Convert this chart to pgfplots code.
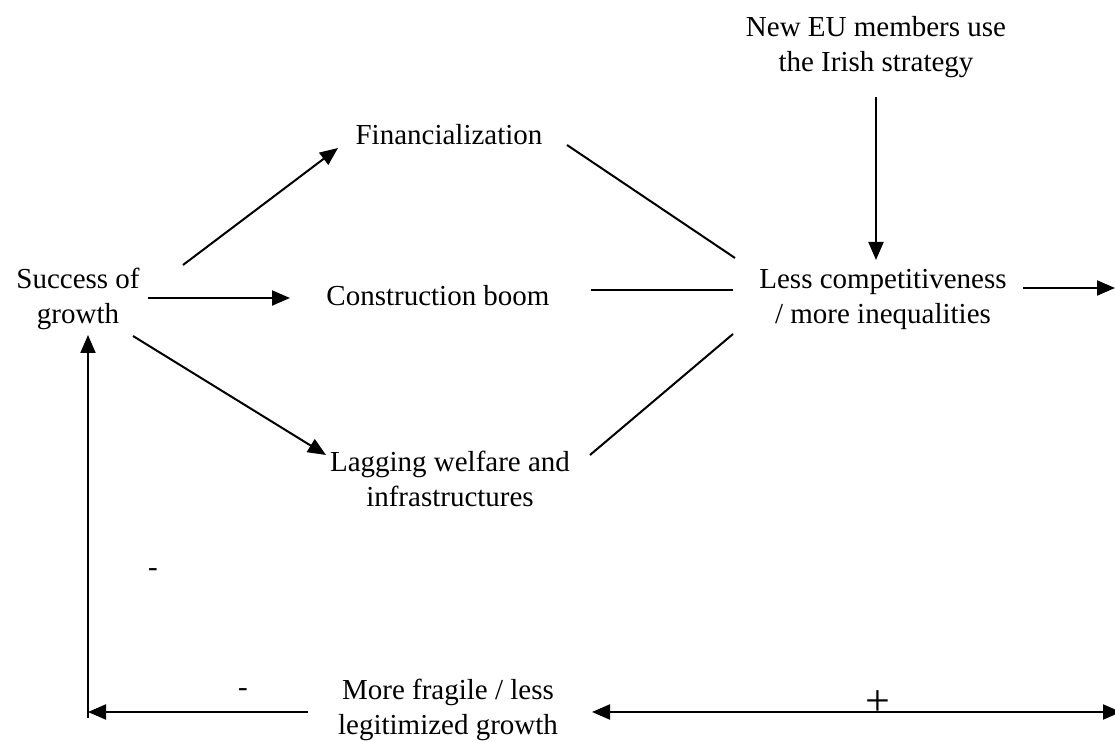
\documentclass[border=0pt]{standalone}
\usepackage{pgfplots}
\pgfplotsset{compat=1.18}
\usepackage{fontspec}
\setmainfont{Liberation Serif}
\usetikzlibrary{arrows.meta}
\newcommand{\fs}{\fontsize{14.5}{17.5}\selectfont}
\begin{document}
\begin{tikzpicture}
\begin{axis}[
    scale only axis,
    width=557.5pt, height=371pt,
    xmin=0, xmax=1115, ymin=0, ymax=742,
    y dir=reverse,
    hide axis, clip=false,
    cycle list={{black, solid, mark=none}},
    every axis plot/.append style={line width=1pt, black, solid, mark=none},
    arr/.style={-{Triangle[length=9pt,width=7.5pt]}},
]
% boxes of text
\node[font=\fs, align=center] at (axis cs:876,47) {New EU members use\\the Irish strategy};
\node[font=\fs] at (axis cs:449,135) {Financialization};
\node[font=\fs, align=center] at (axis cs:78,299) {Success of\\growth};
\node[font=\fs] at (axis cs:438,296) {Construction boom};
\node[font=\fs, align=center] at (axis cs:883,299) {Less competitiveness\\/ more inequalities};
\node[font=\fs, align=center] at (axis cs:450,479) {Lagging welfare and\\infrastructures};
\node[font=\fs, align=center] at (axis cs:448,710) {More fragile / less\\legitimized growth};
\node[font=\fs] at (axis cs:153,573) {-};
\node[font=\fs] at (axis cs:243,693) {-};
\node[font=\fontsize{22}{22}\selectfont] at (axis cs:878,703) {+};

% arrows and links
\addplot[arr] coordinates {(876,97) (876,260)};
\addplot[arr] coordinates {(183,265) (338,148)};
\addplot[black] coordinates {(567,145) (735,258)};
\addplot[arr] coordinates {(148,298) (290,298)};
\addplot[black] coordinates {(591,290) (733,290)};
\addplot[arr] coordinates {(1023,288) (1115,288)};
\addplot[arr] coordinates {(133,336) (326,455)};
\addplot[black] coordinates {(590,455) (733,334)};
\addplot[arr] coordinates {(88,718) (88,335)};
\addplot[arr] coordinates {(308,712) (88,712)};
\addplot[{Triangle[length=9pt,width=7.5pt]}-{Triangle[length=9pt,width=7.5pt]}] coordinates {(592,712) (1121,712)};

\coordinate (bl) at (axis cs:0,742);
\coordinate (tr) at (axis cs:1115,0);
\end{axis}
\pgfresetboundingbox
\useasboundingbox (bl) rectangle (tr);
\end{tikzpicture}
\end{document}
